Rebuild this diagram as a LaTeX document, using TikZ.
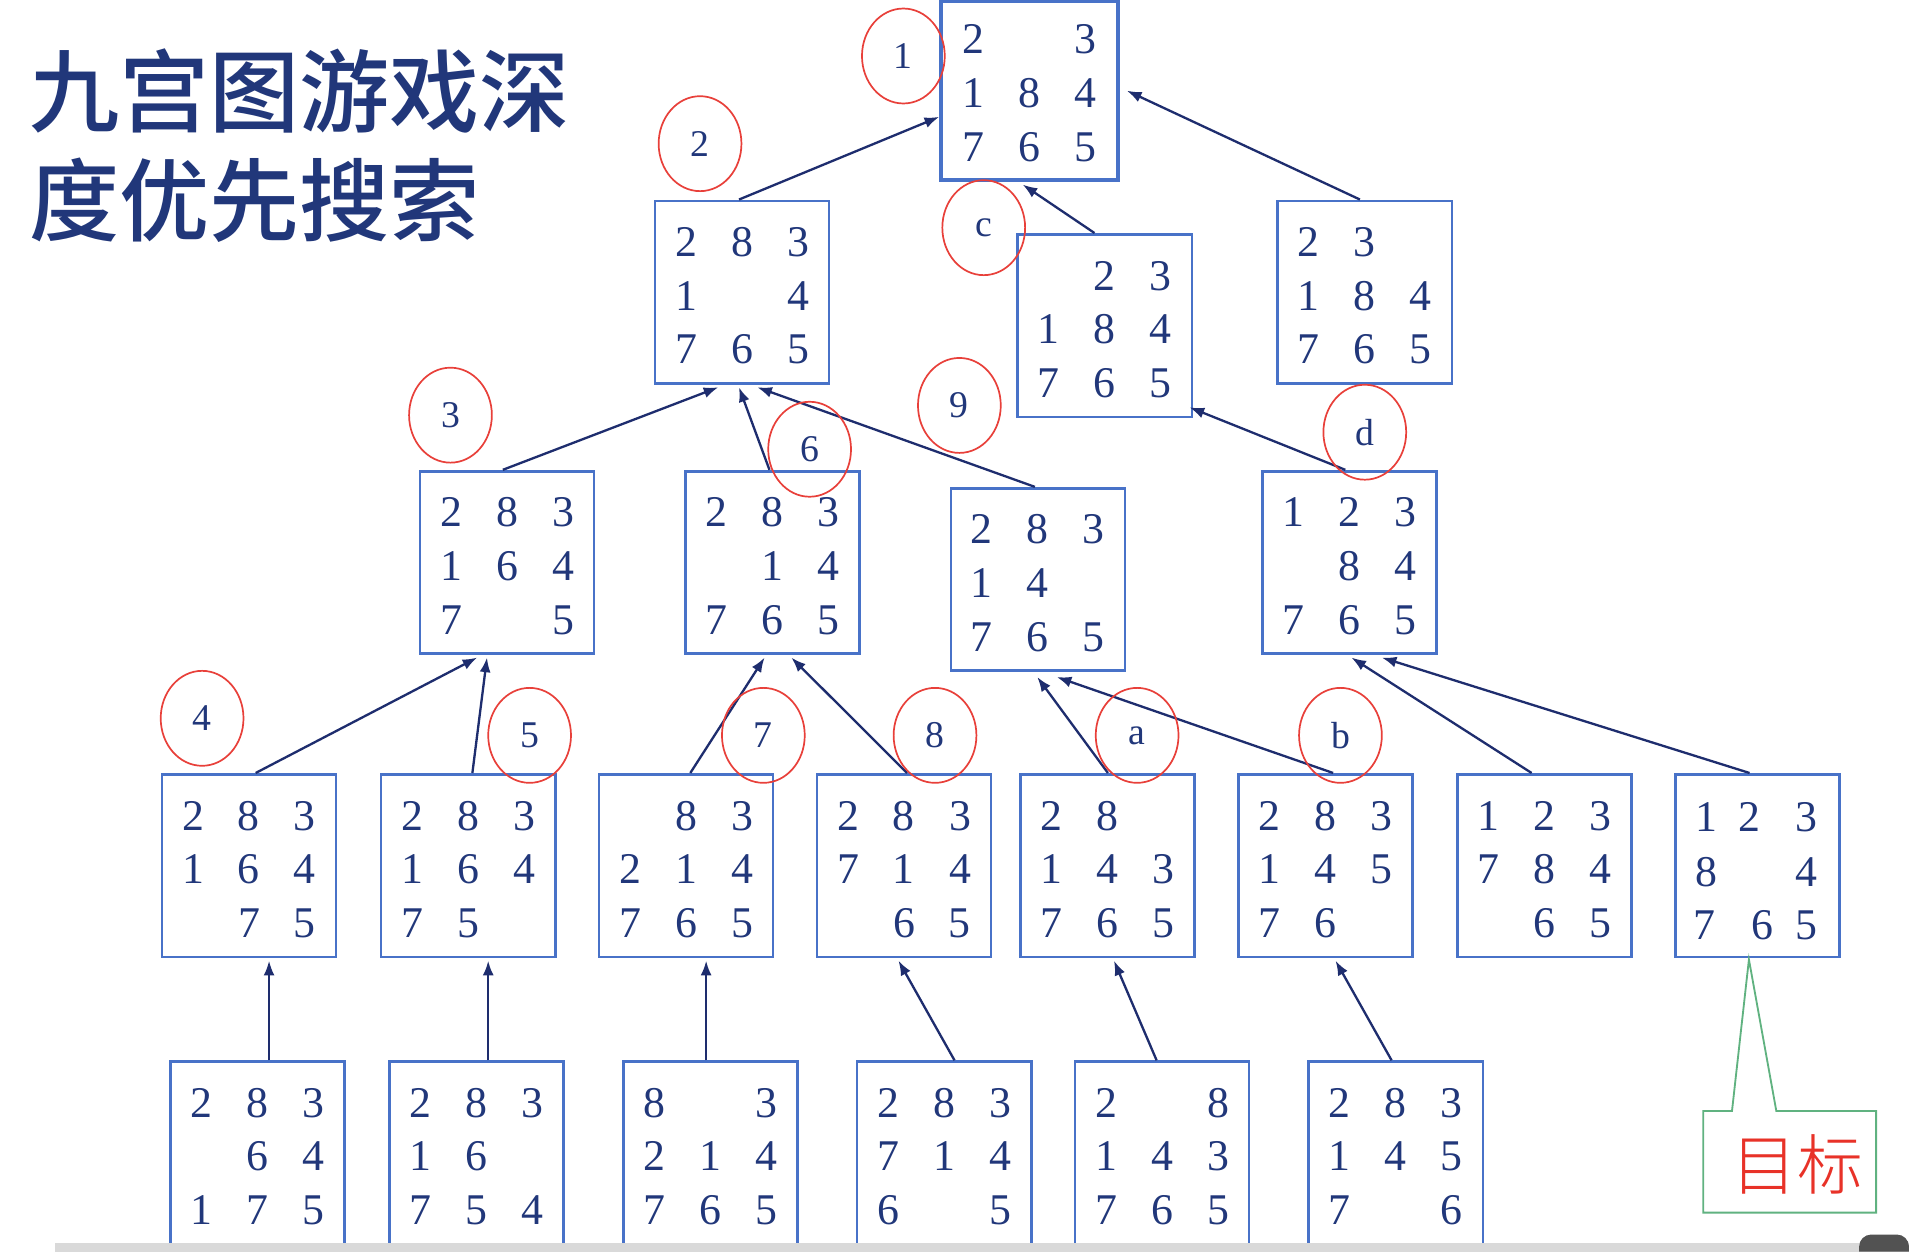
\documentclass[tikz,border=0pt]{standalone}
\usepackage{fontspec}
\setmainfont{Liberation Serif}
\newfontfamily\cjkbold{Noto Sans CJK SC Medium}
\newfontfamily\cjkreg{Noto Sans CJK SC Light}
\usetikzlibrary{arrows.meta,shapes.geometric,calc}
\definecolor{boxblue}{RGB}{72,114,200}
\definecolor{navy}{RGB}{33,55,122}
\definecolor{arrownavy}{RGB}{30,45,110}
\definecolor{circred}{RGB}{232,64,58}
\definecolor{callgreen}{RGB}{96,178,128}
\definecolor{goalred}{RGB}{232,50,40}
\newcommand{\cl}[1]{\makebox[46pt]{#1}}
\newcommand{\rw}[3]{\cl{#1}\cl{#2}\cl{#3}}
\tikzset{
  pbox/.style={draw=boxblue, line width=2.2pt, minimum width=143pt, minimum height=150pt, inner sep=0pt},
  digits/.style={align=center, text=navy, font=\fontsize{36}{44}\selectfont, inner sep=0pt},
  lbl/.style={ellipse, draw=circred, line width=1.4pt, minimum width=68pt, minimum height=78pt, inner sep=0pt, text=navy, font=\fontsize{31}{36}\selectfont},
  link/.style={draw=arrownavy, line width=1.9pt, -{Latex[length=12pt,width=9pt]}},
}
\newcommand{\puz}[6]{%
  \node[pbox] (#1) at (#2,#3) {};
  \node[digits] (#1t) at ([yshift=-3pt]#1.center) {#4\\#5\\#6};
}
\begin{document}
\begin{tikzpicture}[x=1pt,y=-1pt]
\useasboundingbox (0,0) rectangle (1568,1028);
\fill[white] (0,0) rectangle (1568,1028);

% title
\node[anchor=base west, inner sep=0pt, text=navy, font=\cjkbold\fontsize{74}{90}\selectfont] (title1) at (24,103) {九宫图游戏深};
\node[anchor=base west, inner sep=0pt, text=navy, font=\cjkbold\fontsize{74}{90}\selectfont] (title2) at (24,193) {度优先搜索};

% root
\node[pbox, line width=3.2pt, minimum width=145pt, minimum height=147pt] (R) at (845.5,74.5) {};
\node[digits] (Rt) at ([yshift=-2pt]R.center) {\rw{2}{}{3}\\\rw{1}{8}{4}\\\rw{7}{6}{5}};

% level 1
\puz{A}{609.5}{240}{\rw{2}{8}{3}}{\rw{1}{}{4}}{\rw{7}{6}{5}}
\puz{B}{907.5}{267.5}{\rw{}{2}{3}}{\rw{1}{8}{4}}{\rw{7}{6}{5}}
\puz{C}{1121}{240}{\rw{2}{3}{}}{\rw{1}{8}{4}}{\rw{7}{6}{5}}

% level 2
\puz{D}{416.5}{462}{\rw{2}{8}{3}}{\rw{1}{6}{4}}{\rw{7}{}{5}}
\puz{E}{634.5}{462}{\rw{2}{8}{3}}{\rw{}{1}{4}}{\rw{7}{6}{5}}
\puz{F}{852.5}{476}{\rw{2}{8}{3}}{\rw{1}{4}{}}{\rw{7}{6}{5}}
\puz{G}{1108.5}{462}{\rw{1}{2}{3}}{\rw{}{8}{4}}{\rw{7}{6}{5}}

% level 3
\puz{H}{204.5}{711}{\rw{2}{8}{3}}{\rw{1}{6}{4}}{\rw{}{7}{5}}
\puz{I}{384.5}{711}{\rw{2}{8}{3}}{\rw{1}{6}{4}}{\rw{7}{5}{}}
\puz{J}{563.5}{711}{\rw{}{8}{3}}{\rw{2}{1}{4}}{\rw{7}{6}{5}}
\puz{K}{742.5}{711}{\rw{2}{8}{3}}{\rw{7}{1}{4}}{\rw{}{6}{5}}
\puz{L}{909.5}{711}{\rw{2}{8}{}}{\rw{1}{4}{3}}{\rw{7}{6}{5}}
\puz{M}{1088.5}{711}{\rw{2}{8}{3}}{\rw{1}{4}{5}}{\rw{7}{6}{}}
\puz{N}{1268.5}{711}{\rw{1}{2}{3}}{\rw{7}{8}{4}}{\rw{}{6}{5}}
\node[pbox, minimum width=135pt] (O) at (1443.5,711) {};
\node[digits] (O1) at (1402,671) {1};
\node[digits] (O2) at (1437,671) {2};
\node[digits] (O3) at (1484,671) {3};
\node[digits] (O4) at (1402,716) {8};
\node[digits] (O5) at (1484,716) {4};
\node[digits] (O6) at (1400,760) {7};
\node[digits] (O7) at (1448,760) {6};
\node[digits] (O8) at (1484,760) {5};

% level 4
\puz{P}{211.5}{947}{\rw{2}{8}{3}}{\rw{}{6}{4}}{\rw{1}{7}{5}}
\puz{Q}{391.5}{947}{\rw{2}{8}{3}}{\rw{1}{6}{}}{\rw{7}{5}{4}}
\puz{S0}{583.5}{947}{\rw{8}{}{3}}{\rw{2}{1}{4}}{\rw{7}{6}{5}}
\puz{S}{775.5}{947}{\rw{2}{8}{3}}{\rw{7}{1}{4}}{\rw{6}{}{5}}
\puz{T}{954.5}{947}{\rw{2}{}{8}}{\rw{1}{4}{3}}{\rw{7}{6}{5}}
\puz{U}{1146.5}{947}{\rw{2}{8}{3}}{\rw{1}{4}{5}}{\rw{7}{}{6}}

% connectors
\draw[link] ([xshift=-2.5pt]A.north) -- ([yshift=-21.5pt]R.west);
\draw[link] ([xshift=-8.5pt]B.north) -- ([xshift=-5.5pt,yshift=-2pt]R.south);
\draw[link] ([xshift=-4pt]C.north) -- ([xshift=6pt]R.east);
\draw[link] ([xshift=-3.5pt]D.north) -- ([xshift=-19.5pt,yshift=-2pt]A.south);
\draw[link] ([xshift=-2.5pt]E.north) -- ([xshift=-2.5pt,yshift=-2pt]A.south);
\draw[link] ([xshift=-2.5pt]F.north) -- ([xshift=12.5pt,yshift=-2pt]A.south);
\draw[link] ([xshift=-3.5pt]G.north) -- ([xshift=-3pt,yshift=9pt]B.south east);
\draw[link] ([xshift=5.5pt]H.north) -- ([xshift=-24.5pt,yshift=-2pt]D.south);
\draw[link] ([xshift=3.5pt]I.north) -- ([xshift=-16.5pt,yshift=-2pt]D.south);
\draw[link] ([xshift=3.5pt]J.north) -- ([xshift=-6.5pt,yshift=-2pt]E.south);
\draw[link] ([xshift=2.5pt]K.north) -- ([xshift=15.5pt,yshift=-2pt]E.south);
\draw[link] ([xshift=0.5pt]L.north) -- ([xshift=-0.5pt,yshift=-4pt]F.south);
\draw[link] ([xshift=6.5pt]M.north) -- ([xshift=15.5pt,yshift=-4pt]F.south);
\draw[link] ([xshift=-10.5pt]N.north) -- ([xshift=1.5pt,yshift=-2pt]G.south);
\draw[link] ([xshift=-6.5pt]O.north) -- ([xshift=26.5pt,yshift=-2pt]G.south);
\draw[link] ([xshift=9.5pt]P.north) -- ([xshift=16.5pt,yshift=-2pt]H.south);
\draw[link] ([xshift=9.5pt]Q.north) -- ([xshift=16.5pt,yshift=-2pt]I.south);
\draw[link] ([xshift=-3.5pt]S0.north) -- ([xshift=16.5pt,yshift=-2pt]J.south);
\draw[link] ([xshift=8.5pt]S.north) -- ([xshift=-4.5pt,yshift=-2pt]K.south);
\draw[link] ([xshift=-4.5pt]T.north) -- ([xshift=5.5pt,yshift=-2pt]L.south);
\draw[link] ([xshift=-3.5pt]U.north) -- ([xshift=8.5pt,yshift=-2pt]M.south);

% order labels
\node[lbl] (c1) at (742,46) {1};
\node[lbl] (c2) at (575,118) {2};
\node[lbl] (cc) at (808,187) {c};
\node[lbl] (c3) at (370,341) {3};
\node[lbl] (c6) at (665,369) {6};
\node[lbl] (c9) at (788,333) {9};
\node[lbl] (cd) at (1121,355) {d};
\node[lbl] (c4) at (166,590) {4};
\node[lbl] (c5) at (435,604) {5};
\node[lbl] (c7) at (627,604) {7};
\node[lbl] (c8) at (768,604) {8};
\node[lbl] (ca) at (934,604) {a};
\node[lbl] (cb) at (1101,604) {b};

% goal callout
\node[text=goalred, inner sep=0pt, font=\cjkreg\fontsize{54}{60}\selectfont] (goal) at (1476,956) {目标};
\coordinate (apex) at ([xshift=-7pt,yshift=-1pt]O.south);
\draw[callgreen, line width=1.5pt, line join=miter]
  (1399,912.5) -- (1422.6,912.5) -- (apex) -- (1459,912.5) -- (1541,912.5)
  -- (1541,996) -- (1399,996) -- cycle;

% bottom bar
\fill[black!15] (45,1021) rectangle (1568,1028);
\fill[black!68] (1527,1028) -- (1527,1026) [rounded corners=10pt] -- (1527,1014) -- (1568,1014) [sharp corners] -- (1568,1028) -- cycle;
\end{tikzpicture}
\end{document}
